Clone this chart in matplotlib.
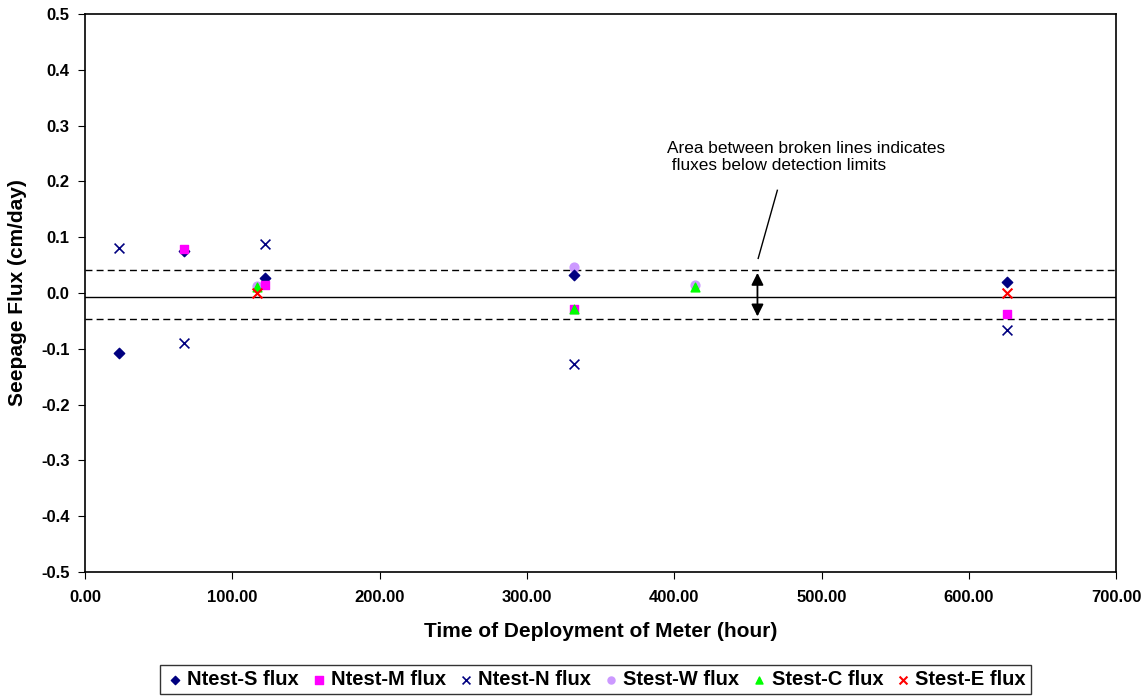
import matplotlib.pyplot as plt
from matplotlib.ticker import FormatStrFormatter

plt.rcParams['font.family'] = ['Liberation Sans', 'DejaVu Sans']

# time of deployment (hour) and seepage flux (cm/day) per meter
ns_t = [23, 67, 122, 332, 626]
ns_f = [-0.107, 0.075, 0.027, 0.032, 0.019]

nm_t = [67, 122, 332, 626]
nm_f = [0.078, 0.015, -0.028, -0.038]

nn_t = [23, 67, 122, 332, 626]
nn_f = [0.080, -0.090, 0.087, -0.128, -0.067]

sw_t = [117, 332, 414]
sw_f = [0.012, 0.046, 0.014]

sc_t = [117, 332, 414]
sc_f = [0.011, -0.028, 0.010]

se_t = [117, 626]
se_f = [0.0, 0.0]

upper_lim = 0.041
lower_lim = -0.047
base_line = -0.007

fig = plt.figure(figsize=(11.47, 6.98), dpi=100)
ax = fig.add_axes([0.0741, 0.1805, 0.899, 0.7995])

ax.axhline(upper_lim, color='black', lw=1, ls=(0, (5, 3)))
ax.axhline(lower_lim, color='black', lw=1, ls=(0, (5, 3)))
ax.axhline(base_line, color='black', lw=1)

ax.scatter(sw_t, sw_f, marker='o', s=40, color='#CC99FF', label='Stest-W flux', zorder=3)
ax.scatter(ns_t, ns_f, marker='D', s=28, color='#000080', label='Ntest-S flux', zorder=3)
ax.scatter(nm_t, nm_f, marker='s', s=40, color='#FF00FF', label='Ntest-M flux', zorder=4)
ax.scatter(nn_t, nn_f, marker='x', s=50, color='#000080', lw=1.2, label='Ntest-N flux', zorder=4)
ax.scatter(sc_t, sc_f, marker='^', s=40, color='#00FF00', label='Stest-C flux', zorder=5)
ax.scatter(se_t, se_f, marker='x', s=50, color='#FF0000', lw=1.5, label='Stest-E flux', zorder=6)

ax.annotate('', xy=(456.5, upper_lim), xytext=(456.5, lower_lim),
            arrowprops=dict(arrowstyle='<|-|>', color='black', lw=1.3, mutation_scale=18))
ax.plot([470, 457], [0.184, 0.062], color='black', lw=1)
ax.text(395, 0.272, 'Area between broken lines indicates\n fluxes below detection limits',
        fontsize=12.4, va='top', ha='left', linespacing=1.15)

ax.set_xlim(0, 700)
ax.set_ylim(-0.5, 0.5)
ax.set_xticks(range(0, 701, 100))
ax.set_yticks([i / 10 for i in range(-5, 6)])
ax.xaxis.set_major_formatter(FormatStrFormatter('%.2f'))
ax.yaxis.set_major_formatter(FormatStrFormatter('%.1f'))
ax.tick_params(direction='out', length=5, labelsize=12)
ax.tick_params(axis='x', pad=8)
ax.tick_params(axis='y', pad=6)
for lab in ax.get_xticklabels() + ax.get_yticklabels():
    lab.set_fontweight('bold')
for sp in ax.spines.values():
    sp.set_linewidth(1.2)

ax.set_xlabel('Time of Deployment of Meter (hour)', fontsize=15, fontweight='bold', labelpad=12)
ax.set_ylabel('Seepage Flux (cm/day)', fontsize=15, fontweight='bold', labelpad=10)

handles, labels = ax.get_legend_handles_labels()
order = ['Ntest-S flux', 'Ntest-M flux', 'Ntest-N flux', 'Stest-W flux', 'Stest-C flux', 'Stest-E flux']
hmap = dict(zip(labels, handles))
leg = fig.legend([hmap[k] for k in order], order, loc='center', bbox_to_anchor=(0.519, 0.0265),
                 ncol=6, frameon=True, fancybox=False, edgecolor='black',
                 prop={'weight': 'bold', 'size': 14.5}, handletextpad=0.1, columnspacing=0.5,
                 borderpad=0.25, handlelength=1.0, markerscale=0.8)
leg.get_frame().set_linewidth(1.0)

fig.savefig('out.png', dpi=100)
